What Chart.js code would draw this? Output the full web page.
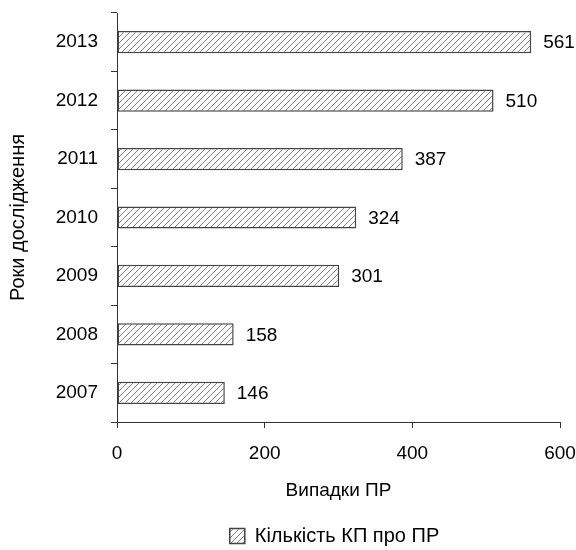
<!DOCTYPE html>
<html>
<head>
<meta charset="utf-8">
<script src="https://cdn.jsdelivr.net/npm/chart.js@4"></script>
<style>
  html, body { margin: 0; padding: 0; background: #fff; }
  #wrap { width: 576px; height: 550px; }
</style>
</head>
<body>
<div id="wrap"><canvas id="c" width="576" height="550"></canvas></div>
<script>
// Years of the study, top to bottom
const years = ['2013', '2012', '2011', '2010', '2009', '2008', '2007'];
// Number of cases per year
const cases = [561, 510, 387, 324, 301, 158, 146];
const xTicks = [0, 200, 400, 600];
const seriesLabel = 'Кількість КП про ПР';
const xTitle = 'Випадки ПР';
const yTitle = 'Роки дослідження';

const FONT = '"Liberation Sans", Arial, sans-serif';
const FS = 19;

// Diagonal hatch fill
function makeHatch() {
  const s = 6;
  const p = document.createElement('canvas');
  p.width = s; p.height = s;
  const g = p.getContext('2d');
  g.fillStyle = '#fff';
  g.fillRect(0, 0, s, s);
  g.strokeStyle = '#808080';
  g.lineWidth = 1;
  g.beginPath();
  g.moveTo(0, s); g.lineTo(s, 0);
  g.moveTo(-1, 1); g.lineTo(1, -1);
  g.moveTo(s - 1, s + 1); g.lineTo(s + 1, s - 1);
  g.stroke();
  return g.createPattern(p, 'repeat');
}
const hatch = makeHatch();

// Value text at the end of each bar
const valueLabels = {
  id: 'valueLabels',
  afterDatasetsDraw(chart) {
    const ctx = chart.ctx;
    const meta = chart.getDatasetMeta(0);
    ctx.save();
    ctx.font = FS + 'px ' + FONT;
    ctx.fillStyle = '#000';
    ctx.textBaseline = 'middle';
    ctx.textAlign = 'left';
    meta.data.forEach((bar, i) => {
      ctx.fillText(String(cases[i]), bar.x + 12, bar.y + 1);
    });
    ctx.restore();
  }
};

// Centre the legend under the plot area rather than the whole canvas
const legendUnderPlot = {
  id: 'legendUnderPlot',
  afterLayout(chart) {
    const lg = chart.legend;
    if (!lg) return;
    const ca = chart.chartArea;
    const shift = (ca.left + ca.right) / 2 - (lg.left + lg.right) / 2 - 4;
    lg.left += shift;
    lg.right += shift;
  }
};

new Chart(document.getElementById('c'), {
  type: 'bar',
  data: {
    labels: years,
    datasets: [{
      label: seriesLabel,
      data: cases,
      backgroundColor: hatch,
      borderColor: '#444',
      borderWidth: 1.5,
      borderSkipped: false,
      categoryPercentage: 1,
      barPercentage: 0.38
    }]
  },
  options: {
    indexAxis: 'y',
    responsive: false,
    animation: false,
    devicePixelRatio: 1,
    layout: { padding: { top: 13, right: 16, left: 0, bottom: -6 } },
    scales: {
      x: {
        type: 'linear',
        min: 0, max: 600,
        afterBuildTicks(axis) { axis.ticks = xTicks.map(v => ({ value: v })); },
        ticks: { color: '#000', font: { family: FONT, size: FS }, padding: 14 },
        grid: { display: true, drawOnChartArea: false, drawTicks: true, tickLength: 6, tickColor: '#333' },
        border: { display: true, color: '#333', width: 1 },
        title: { display: true, text: xTitle, color: '#000', font: { family: FONT, size: FS }, padding: { top: 0, bottom: 24 } },
        afterFit(axis) {
          axis.height = 104;
          axis.paddingLeft = 0;
          axis.paddingRight = 0;
        }
      },
      y: {
        type: 'category',
        offset: true,
        ticks: { color: '#000', font: { family: FONT, size: FS }, padding: 13 },
        grid: { display: true, offset: true, drawOnChartArea: false, drawTicks: true, tickLength: 6, tickColor: '#333' },
        border: { display: true, color: '#333', width: 1 },
        title: { display: true, text: yTitle, color: '#000', font: { family: FONT, size: 20 }, padding: { top: 6, bottom: 0 } },
        afterFit(axis) {
          axis.width = 117;
          axis.paddingTop = 0;
          axis.paddingBottom = 0;
        }
      }
    },
    plugins: {
      legend: {
        display: true,
        position: 'bottom',
        labels: {
          color: '#000',
          font: { family: FONT, size: 20 },
          boxWidth: 15,
          boxHeight: 15,
          padding: 0
        }
      },
      tooltip: { enabled: false }
    }
  },
  plugins: [valueLabels, legendUnderPlot]
});
</script>
</body>
</html>
